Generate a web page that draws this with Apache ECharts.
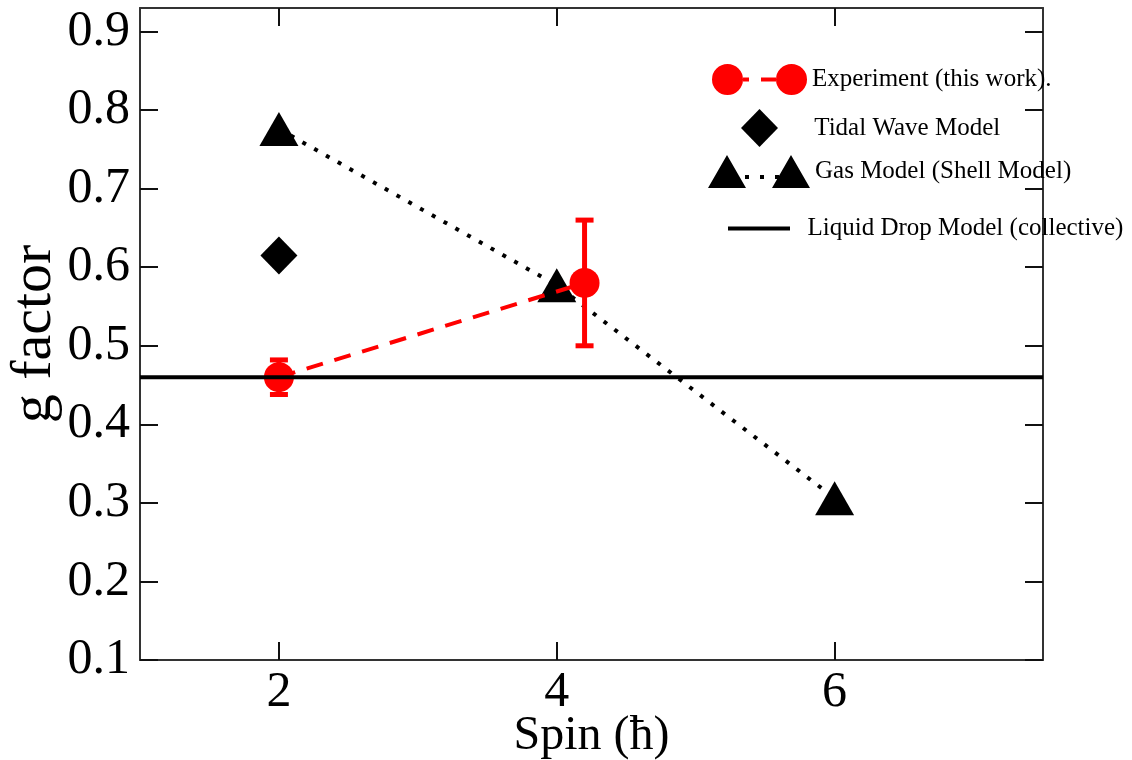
<!DOCTYPE html>
<html>
<head>
<meta charset="utf-8">
<title>g factor vs spin</title>
<script src="https://cdn.jsdelivr.net/npm/echarts@6.0.0/dist/echarts.min.js"></script>
<style>
  html, body { margin: 0; padding: 0; background: #fff; }
  #chart { width: 1132px; height: 760px; }
</style>
</head>
<body>
<div id="chart"></div>
<script>
// data
const xTicks = [2, 4, 6]
const yTicks = [0.1, 0.2, 0.3, 0.4, 0.5, 0.6, 0.7, 0.8, 0.9]

const expX = [2, 4.2]
const expY = [0.46, 0.58]
const expErr = [0.022, 0.08]

const tidalX = [2]
const tidalY = [0.615]

const gasX = [2, 4, 6]
const gasY = [0.776, 0.577, 0.306]

const liquidY = 0.46

const xMin = 1
const xMax = 7.5
const yMin = 0.1
const yMax = 0.93

const font = 'Liberation Serif'

// legend icons: two markers joined by the series line
const expIcon = 'path://M0,15.5A15.5,15.5,0,1,1,31,15.5A15.5,15.5,0,1,1,0,15.5Z' +
  'M31,13.5L37,13.5L37,17.5L31,17.5Z M49,13.5L64,13.5L64,17.5L49,17.5Z' +
  'M64,15.5A15.5,15.5,0,1,1,95,15.5A15.5,15.5,0,1,1,64,15.5Z'
const gasIcon = 'path://M0,33L19,0L38,33Z M37,20L41,20L41,24L37,24Z' +
  'M52,20L56,20L56,24L52,24Z M67,20L71,20L71,24L67,24Z M64,33L83,0L102,33Z'

const chart = echarts.init(document.getElementById('chart'))

const axisLine = { show: true, lineStyle: { color: '#333', width: 2 } }
const tickStyle = { color: '#111', width: 2 }

function legendBox(name, icon, w, h, left, top, pad) {
  return {
    data: [{ name: name, icon: icon }],
    left: left,
    top: top,
    padding: 0,
    itemWidth: w,
    itemHeight: h,
    selectedMode: false,
    itemStyle: { borderWidth: 0, opacity: 1 },
    formatter: n => ' '.repeat(pad) + n,
    textStyle: { fontFamily: font, fontSize: 25, color: '#000' }
  }
}

chart.setOption({
  animation: false,
  grid: { left: 140, right: 89, top: 8, bottom: 100, outerBoundsMode: 'none', containLabel: false },
  legend: [
    legendBox('Experiment (this work).', expIcon, 95, 31, 712, 64, 0),
    legendBox('Tidal Wave Model', 'diamond', 37, 38, 741, 109, 5),
    legendBox('Gas Model (Shell Model)', gasIcon, 102, 33, 708, 155, 0),
    legendBox('Liquid Drop Model (collective)', 'rect', 62, 4, 728, 216, 2)
  ],
  xAxis: [{
    type: 'value',
    min: xMin,
    max: xMax,
    position: 'bottom',
    name: 'Spin (ħ)',
    nameLocation: 'middle',
    nameGap: 52,
    nameMoveOverlap: false,
    nameTextStyle: { fontFamily: font, fontSize: 48, color: '#000' },
    axisLine: axisLine,
    axisTick: { inside: true, length: 18, lineStyle: tickStyle, customValues: xTicks },
    axisLabel: { customValues: xTicks, margin: 8, fontFamily: font, fontSize: 50, color: '#000' },
    splitLine: { show: false }
  }, {
    type: 'value',
    min: xMin,
    max: xMax,
    position: 'top',
    axisLine: axisLine,
    axisTick: { inside: true, length: 18, lineStyle: tickStyle, customValues: xTicks },
    axisLabel: { show: false },
    splitLine: { show: false }
  }],
  yAxis: [{
    type: 'value',
    min: yMin,
    max: yMax,
    position: 'left',
    name: 'g factor',
    nameLocation: 'middle',
    nameGap: 76,
    nameMoveOverlap: false,
    nameTextStyle: { fontFamily: font, fontSize: 58, color: '#000' },
    axisLine: axisLine,
    axisTick: { inside: true, length: 18, lineStyle: tickStyle, customValues: yTicks },
    axisLabel: { customValues: yTicks, margin: 10, fontFamily: font, fontSize: 50, color: '#000' },
    splitLine: { show: false }
  }, {
    type: 'value',
    min: yMin,
    max: yMax,
    position: 'right',
    axisLine: axisLine,
    axisTick: { inside: true, length: 18, lineStyle: tickStyle, customValues: yTicks },
    axisLabel: { show: false },
    splitLine: { show: false }
  }],
  series: [{
    name: 'Gas Model (Shell Model)',
    type: 'line',
    z: 2,
    data: gasX.map((x, i) => [x, gasY[i]]),
    symbol: 'triangle',
    symbolSize: [39, 34],
    itemStyle: { color: '#000', opacity: 1 },
    lineStyle: { color: '#000', width: 4, type: [4, 9.5] }
  }, {
    name: 'Tidal Wave Model',
    type: 'scatter',
    z: 2,
    data: tidalX.map((x, i) => [x, tidalY[i]]),
    symbol: 'diamond',
    symbolSize: [37, 38],
    itemStyle: { color: '#000', opacity: 1 }
  }, {
    name: 'Experiment (this work).',
    type: 'line',
    z: 3,
    data: expX.map((x, i) => [x, expY[i]]),
    symbol: 'circle',
    symbolSize: 30,
    itemStyle: { color: '#ff0000', opacity: 1 },
    lineStyle: { color: '#ff0000', width: 4, type: [17, 12] }
  }, {
    name: 'Experiment error',
    type: 'custom',
    z: 3,
    data: expX.map((x, i) => [x, expY[i], expErr[i]]),
    renderItem: (params, api) => {
      const x = api.value(0)
      const y = api.value(1)
      const e = api.value(2)
      const top = api.coord([x, y + e])
      const bot = api.coord([x, y - e])
      const style = { stroke: '#ff0000', lineWidth: 5 }
      return {
        type: 'group',
        children: [
          { type: 'line', shape: { x1: top[0], y1: top[1], x2: bot[0], y2: bot[1] }, style: style },
          { type: 'line', shape: { x1: top[0] - 9, y1: top[1], x2: top[0] + 9, y2: top[1] }, style: style },
          { type: 'line', shape: { x1: bot[0] - 9, y1: bot[1], x2: bot[0] + 9, y2: bot[1] }, style: style }
        ]
      }
    }
  }, {
    name: 'Liquid Drop Model (collective)',
    type: 'line',
    z: 4,
    data: [[xMin, liquidY], [xMax, liquidY]],
    symbol: 'none',
    itemStyle: { color: '#000' },
    lineStyle: { color: '#000', width: 4 }
  }]
})
</script>
</body>
</html>
